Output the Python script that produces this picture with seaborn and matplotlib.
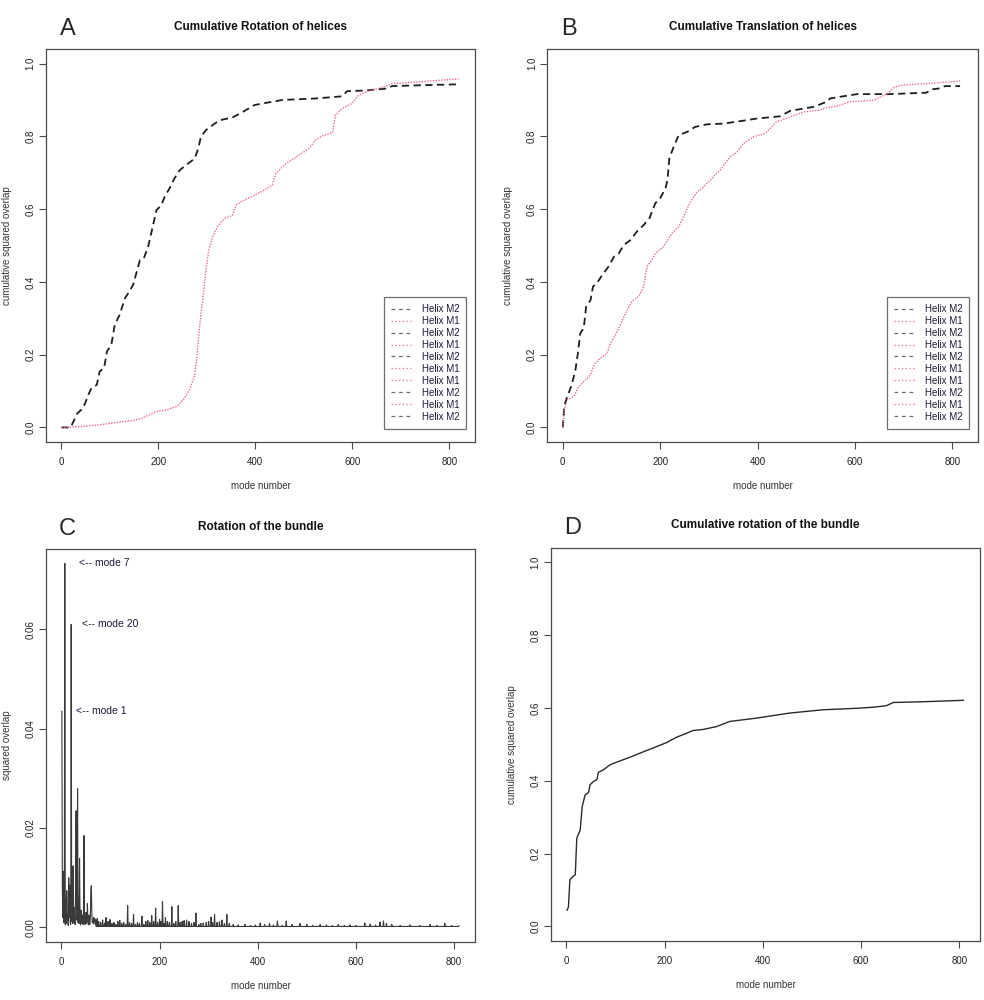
import numpy as np
import pandas as pd
import seaborn as sns
import matplotlib.pyplot as plt
from matplotlib.lines import Line2D

# ---- data ----
# A: cumulative rotation of helices (mode, cumulative overlap)
rot_m2_mode = [0, 19, 33, 45, 57, 62, 73, 79, 88, 94, 103, 110, 120, 131, 138, 148, 162, 170, 179, 196,
               206, 213, 223, 233, 244, 257, 275, 281, 288, 298, 312, 326, 353, 374, 398, 422, 456, 524,
               579, 589, 627, 668, 682, 730, 819]
rot_m2_val = [0.0, 0.0, 0.039, 0.053, 0.094, 0.108, 0.117, 0.154, 0.163, 0.209, 0.227, 0.282, 0.309, 0.355,
              0.369, 0.392, 0.46, 0.465, 0.497, 0.597, 0.611, 0.634, 0.657, 0.684, 0.707, 0.721, 0.739,
              0.762, 0.799, 0.817, 0.831, 0.844, 0.852, 0.867, 0.886, 0.892, 0.9, 0.904, 0.91, 0.924,
              0.926, 0.931, 0.938, 0.94, 0.943]
rot_m1_mode = [0, 45, 79, 114, 148, 168, 182, 196, 216, 240, 254, 264, 274, 279, 283, 288, 293, 298, 304,
               312, 322, 336, 353, 360, 377, 398, 418, 435, 442, 463, 490, 511, 524, 541, 559, 565, 579,
               600, 613, 634, 661, 682, 730, 819]
rot_m1_val = [0.0, 0.003, 0.007, 0.014, 0.019, 0.026, 0.035, 0.044, 0.048, 0.059, 0.081, 0.103, 0.14,
              0.186, 0.25, 0.314, 0.369, 0.433, 0.488, 0.524, 0.552, 0.574, 0.583, 0.611, 0.625, 0.638,
              0.652, 0.666, 0.698, 0.725, 0.748, 0.767, 0.79, 0.803, 0.81, 0.858, 0.877, 0.891, 0.913,
              0.925, 0.934, 0.945, 0.949, 0.958]

# B: cumulative translation of helices
tra_m2_mode = [0, 3, 9, 16, 21, 26, 31, 36, 43, 48, 57, 62, 70, 81, 94, 105, 115, 125, 139, 152, 166,
               178, 190, 200, 211, 215, 219, 228, 238, 255, 272, 296, 330, 371, 399, 446, 467, 515, 542,
               549, 576, 604, 672, 747, 758, 775, 785, 816]
tra_m2_val = [0.0, 0.058, 0.085, 0.108, 0.131, 0.158, 0.204, 0.259, 0.273, 0.332, 0.35, 0.387, 0.396,
              0.419, 0.442, 0.469, 0.478, 0.501, 0.515, 0.538, 0.556, 0.575, 0.616, 0.63, 0.657, 0.68,
              0.74, 0.772, 0.803, 0.812, 0.826, 0.833, 0.835, 0.843, 0.849, 0.855, 0.87, 0.881, 0.895,
              0.904, 0.91, 0.916, 0.916, 0.92, 0.929, 0.932, 0.938, 0.938]
tra_m1_mode = [0, 3, 9, 23, 31, 43, 57, 64, 77, 91, 98, 108, 118, 129, 142, 156, 166, 173, 183, 190, 207,
               224, 238, 248, 262, 276, 289, 303, 323, 344, 358, 371, 392, 416, 439, 467, 494, 528, 542,
               563, 590, 638, 665, 682, 699, 747, 816]
tra_m1_val = [0.0, 0.048, 0.076, 0.085, 0.108, 0.126, 0.145, 0.172, 0.19, 0.204, 0.231, 0.254, 0.282,
              0.314, 0.346, 0.36, 0.387, 0.442, 0.46, 0.478, 0.497, 0.533, 0.552, 0.579, 0.62, 0.647,
              0.661, 0.68, 0.707, 0.744, 0.757, 0.78, 0.799, 0.808, 0.84, 0.853, 0.867, 0.872, 0.879,
              0.883, 0.895, 0.899, 0.916, 0.936, 0.941, 0.945, 0.952]

# C: squared overlap per mode, modes 1..70 read one by one
bundle_first = [0.0436, 0.0078, 0.0020, 0.0113, 0.0010, 0.0030, 0.0733, 0.0005, 0.0060, 0.0008,
                0.0074, 0.0015, 0.0025, 0.0004, 0.0100, 0.0020, 0.0085, 0.0010, 0.0006, 0.0610,
                0.0012, 0.0030, 0.0008, 0.0124, 0.0010, 0.0040, 0.0020, 0.0006, 0.0078, 0.0235,
                0.0015, 0.0030, 0.0280, 0.0010, 0.0060, 0.0008, 0.0139, 0.0020, 0.0005, 0.0035,
                0.0012, 0.0008, 0.0025, 0.0006, 0.0010, 0.0185, 0.0020, 0.0006, 0.0015, 0.0030,
                0.0008, 0.0012, 0.0048, 0.0015, 0.0005, 0.0025, 0.0010, 0.0006, 0.0020, 0.0070,
                0.0084, 0.0030, 0.0010, 0.0015, 0.0008, 0.0020, 0.0012, 0.0018, 0.0006, 0.0015]
# visible spikes beyond mode 70 (mode, value); other modes sit on the baseline
spike_modes = [73, 76, 80, 84, 88, 91, 95, 99, 103, 107, 111, 115, 119, 123, 127, 131, 135, 139, 143,
               147, 151, 155, 159, 164, 168, 172, 176, 180, 184, 188, 192, 196, 200, 203, 206, 209,
               212, 216, 220, 225, 229, 233, 238, 242, 246, 250, 255, 260, 265, 270, 274, 280, 284,
               289, 295, 300, 305, 308, 312, 317, 322, 327, 332, 337, 342, 350, 360, 374, 385, 395,
               405, 414, 424, 432, 440, 450, 458, 470, 486, 500, 512, 527, 540, 552, 564, 576, 588,
               600, 618, 629, 640, 649, 656, 662, 673, 690, 710, 730, 751, 765, 781, 795, 810]
spike_vals = [0.0018, 0.0012, 0.0010, 0.0015, 0.0009, 0.0020, 0.0012, 0.0016, 0.0008, 0.0010, 0.0006,
              0.0012, 0.0014, 0.0008, 0.0010, 0.0006, 0.0044, 0.0010, 0.0008, 0.0026, 0.0006, 0.0010,
              0.0008, 0.0023, 0.0006, 0.0012, 0.0014, 0.0010, 0.0024, 0.0012, 0.0039, 0.0010, 0.0016,
              0.0012, 0.0052, 0.0008, 0.0020, 0.0012, 0.0010, 0.0042, 0.0008, 0.0012, 0.0044, 0.0010,
              0.0012, 0.0014, 0.0015, 0.0012, 0.0008, 0.0010, 0.0029, 0.0006, 0.0008, 0.0009, 0.0010,
              0.0012, 0.0021, 0.0010, 0.0026, 0.0010, 0.0012, 0.0015, 0.0008, 0.0026, 0.0008, 0.0006,
              0.0005, 0.0006, 0.0004, 0.0005, 0.0009, 0.0006, 0.0008, 0.0005, 0.0013, 0.0004, 0.0013,
              0.0006, 0.0008, 0.0006, 0.0004, 0.0006, 0.0005, 0.0004, 0.0006, 0.0004, 0.0005, 0.0004,
              0.0009, 0.0007, 0.0005, 0.0011, 0.0013, 0.0008, 0.0006, 0.0004, 0.0005, 0.0004, 0.0006,
              0.0004, 0.0008, 0.0004, 0.0004]
n_modes_bundle = 810
bundle_baseline = 0.0002
annotations = [(7, "<-- mode 7"), (20, "<-- mode 20"), (1, "<-- mode 1")]
annot_x = [36, 43, 30]

# D: cumulative rotation of the bundle
cum_mode = [1, 4, 7, 13, 18, 21, 24, 28, 32, 38, 45, 48, 55, 62, 65, 75, 89, 106, 130, 150, 184, 204,
            225, 242, 258, 279, 306, 333, 387, 455, 523, 591, 625, 651, 666, 727, 809]
cum_val = [0.044, 0.053, 0.128, 0.137, 0.142, 0.242, 0.252, 0.265, 0.329, 0.361, 0.368, 0.389, 0.398,
           0.403, 0.423, 0.43, 0.444, 0.453, 0.465, 0.476, 0.494, 0.505, 0.52, 0.529, 0.538, 0.541,
           0.549, 0.563, 0.572, 0.586, 0.595, 0.599, 0.602, 0.606, 0.615, 0.617, 0.621]

legend_labels = ["Helix M2", "Helix M1", "Helix M2", "Helix M1", "Helix M2",
                 "Helix M1", "Helix M1", "Helix M2", "Helix M1", "Helix M2"]

BLACK = "#1e1e1e"
PINK = "#e86a84"
GREY = "#6b6b6b"
BOX = "#4a4a4a"
TXT = "#1a1a38"

sns.set_style("ticks")
plt.rcParams["font.family"] = ["Liberation Sans", "DejaVu Sans"]

fig = plt.figure(figsize=(9.84, 10), dpi=100)
axA = fig.add_axes([0.0467, 0.558, 0.436, 0.393])
axB = fig.add_axes([0.5562, 0.558, 0.4377, 0.393])
axC = fig.add_axes([0.0467, 0.058, 0.436, 0.393])
axD = fig.add_axes([0.560, 0.059, 0.436, 0.3933])


def style_axes(ax, title, letter, ylabel, yticks, yfmt):
    for s in ax.spines.values():
        s.set_color(BOX)
        s.set_linewidth(0.9)
    ax.set_xticks([0, 200, 400, 600, 800])
    ax.set_yticks(yticks)
    ax.set_yticklabels([yfmt.format(v) for v in yticks], rotation=90, va="center")
    ax.tick_params(axis="x", direction="out", length=5, width=0.8, color=BOX, labelsize=7,
                   labelcolor="#222222", pad=6)
    ax.tick_params(axis="y", direction="out", length=5, width=0.8, color=BOX, labelsize=7,
                   labelcolor="#222222", pad=2.5)
    ax.set_xlabel("mode number", fontsize=7, color="#333333", labelpad=10)
    ax.set_ylabel(ylabel, fontsize=7, color="#333333", labelpad=10)
    ax.set_title(title, fontsize=8.5, fontweight="bold", color="#111111", pad=14)
    ax.text(0.05, 1.05, letter, transform=ax.transAxes, fontsize=17, ha="center", va="center")


def helix_legend(ax):
    handles = []
    for lab in legend_labels:
        if lab == "Helix M2":
            handles.append(Line2D([], [], color=GREY, linestyle=(0, (3, 3)), linewidth=0.9))
        else:
            handles.append(Line2D([], [], color=PINK, linestyle=(0, (1, 2)), linewidth=0.9))
    leg = ax.legend(handles, legend_labels, loc="lower right", bbox_to_anchor=(0.987, 0.026),
                    fontsize=7, frameon=True, fancybox=False, handlelength=2.2, labelspacing=0.2,
                    borderpad=0.75, handletextpad=0.9, borderaxespad=0.3, labelcolor=TXT)
    leg.get_frame().set_edgecolor(BOX)
    leg.get_frame().set_linewidth(0.9)


# A
sns.lineplot(x=rot_m2_mode, y=rot_m2_val, ax=axA, color=BLACK, linewidth=1.3, linestyle=(0, (4, 2.5)))
sns.lineplot(x=rot_m1_mode, y=rot_m1_val, ax=axA, color=PINK, linewidth=1.0, linestyle=(0, (1, 1)))
axA.set_xlim(-31.8, 852.8)
axA.set_ylim(-0.04, 1.04)
style_axes(axA, "Cumulative Rotation of helices", "A", "cumulative squared overlap",
           [0, 0.2, 0.4, 0.6, 0.8, 1.0], "{:.1f}")
helix_legend(axA)

# B
sns.lineplot(x=tra_m2_mode, y=tra_m2_val, ax=axB, color=BLACK, linewidth=1.3, linestyle=(0, (4, 2.5)))
sns.lineplot(x=tra_m1_mode, y=tra_m1_val, ax=axB, color=PINK, linewidth=1.0, linestyle=(0, (1, 1)))
axB.set_xlim(-31.8, 852.8)
axB.set_ylim(-0.04, 1.04)
style_axes(axB, "Cumulative Translation of helices", "B", "cumulative squared overlap",
           [0, 0.2, 0.4, 0.6, 0.8, 1.0], "{:.1f}")
helix_legend(axB)

# C
bundle = np.full(n_modes_bundle, bundle_baseline)
bundle[:len(bundle_first)] = bundle_first
for m, v in zip(spike_modes, spike_vals):
    bundle[m - 1] = v
df_c = pd.DataFrame({"mode": np.arange(1, n_modes_bundle + 1), "overlap": bundle})
sns.lineplot(data=df_c, x="mode", y="overlap", ax=axC, color="#3a3a3a", linewidth=0.8)
for (m, lab), tx in zip(annotations, annot_x):
    axC.text(tx, bundle[m - 1], lab, fontsize=7.5, color=TXT, ha="left", va="center")
axC.set_xlim(-31.4, 842.4)
axC.set_ylim(-0.00293, 0.0762)
style_axes(axC, "Rotation of the bundle", "C", "squared overlap",
           [0, 0.02, 0.04, 0.06], "{:.2f}")

# D
sns.lineplot(x=cum_mode, y=cum_val, ax=axD, color="#2a2a2a", linewidth=1.0)
axD.set_xlim(-31.4, 842.4)
axD.set_ylim(-0.04, 1.04)
style_axes(axD, "Cumulative rotation of the bundle", "D", "cumulative squared overlap",
           [0, 0.2, 0.4, 0.6, 0.8, 1.0], "{:.1f}")

fig.savefig("out.png", dpi=100, facecolor="white")
